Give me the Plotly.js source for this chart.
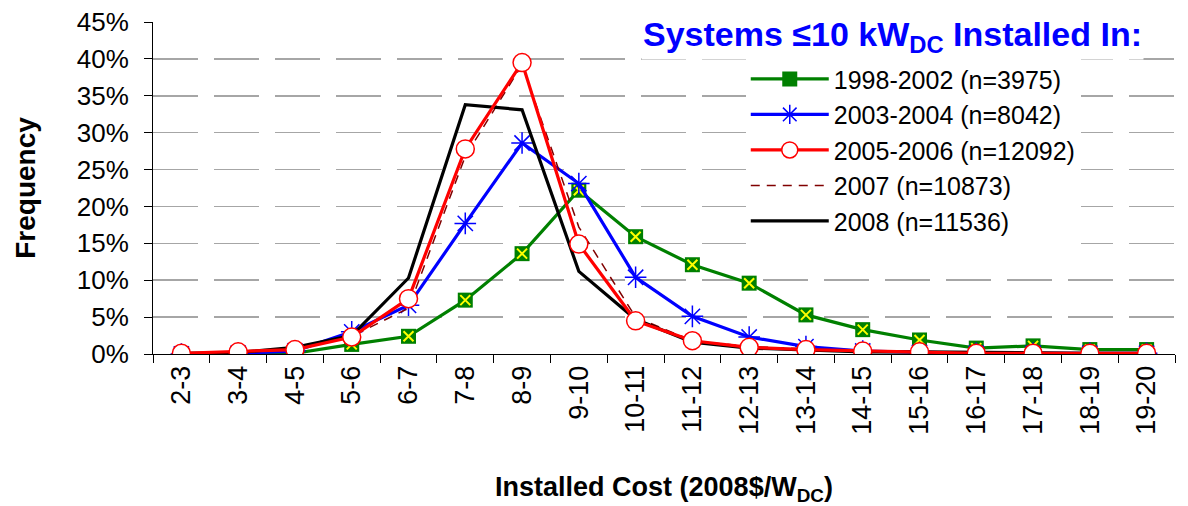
<!DOCTYPE html>
<html>
<head>
<meta charset="utf-8">
<script src="https://cdn.plot.ly/plotly-3.0.1.min.js"></script>
<style>html,body{margin:0;padding:0;background:#fff;}#chart{width:1188px;height:506px;}</style>
</head>
<body>
<div id="chart"></div>
<script>
const categories = ["2-3","3-4","4-5","5-6","6-7","7-8","8-9","9-10","10-11","11-12","12-13","13-14","14-15","15-16","16-17","17-18","18-19","19-20"];
const s1998_2002 = [0.000,0.000,0.001,0.013,0.024,0.073,0.136,0.222,0.159,0.121,0.096,0.053,0.033,0.019,0.008,0.011,0.006,0.006];
const s2003_2004 = [0.000,0.001,0.004,0.030,0.066,0.177,0.286,0.231,0.104,0.051,0.023,0.010,0.004,0.002,0.001,0.001,0.001,0.001];
const s2005_2006 = [0.001,0.003,0.006,0.023,0.075,0.278,0.395,0.149,0.045,0.018,0.009,0.006,0.004,0.003,0.001,0.001,0.001,0.001];
const s2007 = [0.001,0.002,0.007,0.024,0.062,0.268,0.392,0.172,0.050,0.018,0.010,0.007,0.004,0.003,0.002,0.001,0.001,0.001];
const s2008 = [0.001,0.002,0.009,0.025,0.103,0.338,0.331,0.112,0.047,0.016,0.008,0.005,0.003,0.003,0.002,0.001,0.001,0.001];
const seriesNames = ["1998-2002 (n=3975)","2003-2004 (n=8042)","2005-2006 (n=12092)","2007 (n=10873)","2008 (n=11536)"];
const titleText = "Systems ≤10 kW<sub>DC</sub> Installed In:";
const xTitle = "Installed Cost (2008$/W<sub>DC</sub>)";
const yTitle = "Frequency";

const FONT = "Arial, 'Liberation Sans', sans-serif";

const traces = [
  {x: categories, y: s1998_2002, name: seriesNames[0], type: 'scatter', mode: 'lines+markers', legendrank: 1,
   line: {color: '#008000', width: 3.2},
   marker: {symbol: 'square', size: 15, color: '#008000', line: {color: '#008000', width: 0}}},
  {x: categories, y: s1998_2002, name: seriesNames[0] + ' x', type: 'scatter', mode: 'markers', showlegend: false,
   hoverinfo: 'skip',
   marker: {symbol: 'x-thin-open', size: 10, color: '#FFFF00', line: {color: '#FFFF00', width: 2}}},
  {x: categories, y: s2003_2004, name: seriesNames[1], type: 'scatter', mode: 'lines+markers', legendrank: 2,
   line: {color: '#0000FF', width: 3.2},
   marker: {symbol: 'asterisk-open', size: 18, color: '#0000FF', line: {color: '#0000FF', width: 1.5}}},
  {x: categories, y: s2007, name: seriesNames[3], type: 'scatter', mode: 'lines', legendrank: 4,
   line: {color: '#800000', width: 1.5, dash: '9px,7px'}},
  {x: categories, y: s2008, name: seriesNames[4], type: 'scatter', mode: 'lines', legendrank: 5,
   line: {color: '#000000', width: 3.2}},
  {x: categories, y: s2005_2006, name: seriesNames[2], type: 'scatter', mode: 'lines+markers', legendrank: 3,
   line: {color: '#FF0000', width: 3.2},
   marker: {symbol: 'circle', size: 18, color: '#FFFFFF', line: {color: '#FF0000', width: 1.5}}}
];

const layout = {
  width: 1188, height: 506,
  margin: {l: 153, r: 13, t: 22, b: 152},
  paper_bgcolor: '#FFFFFF', plot_bgcolor: '#FFFFFF',
  font: {family: FONT, size: 25, color: '#000'},
  showlegend: true,
  legend: {x: 0.58, y: 0.897, xanchor: 'left', yanchor: 'top', bgcolor: '#FFFFFF',
           font: {family: FONT, size: 25, color: '#000'}, itemwidth: 78, tracegroupgap: 0,
           traceorder: 'normal'},
  xaxis: {type: 'category', range: [-0.5, 17.5], showgrid: false, showline: true, linecolor: '#000', linewidth: 1,
          ticks: 'outside', tickson: 'boundaries', ticklen: 8, tickcolor: '#000',
          tickangle: -90, tickfont: {family: FONT, size: 27, color: '#000'},
          zeroline: false, automargin: false,
          title: {text: xTitle, font: {family: FONT, size: 27, color: '#000', weight: 'bold'}, standoff: 44}},
  yaxis: {range: [0, 0.45], dtick: 0.05, tickformat: '.0%', showgrid: true, gridcolor: '#A6A6A6', gridwidth: 1.5,
          griddash: '45px,16px', showline: true, linecolor: '#000', linewidth: 1,
          ticks: 'outside', ticklen: 8, tickcolor: '#000', zeroline: false, automargin: false,
          ticklabelstandoff: 10,
          tickfont: {family: FONT, size: 26, color: '#000'},
          title: {text: yTitle, font: {family: FONT, size: 28, color: '#000', weight: 'bold'}, standoff: 32}},
  annotations: [
    {text: titleText, xref: 'paper', yref: 'paper', x: 0.724, y: 0.955, xanchor: 'center', yanchor: 'middle',
     showarrow: false, bgcolor: '#FFFFFF',
     font: {family: FONT, size: 34, color: '#0000FF', weight: 'bold'}}
  ]
};

Plotly.newPlot('chart', traces, layout, {staticPlot: true, displayModeBar: false});
</script>
</body>
</html>
